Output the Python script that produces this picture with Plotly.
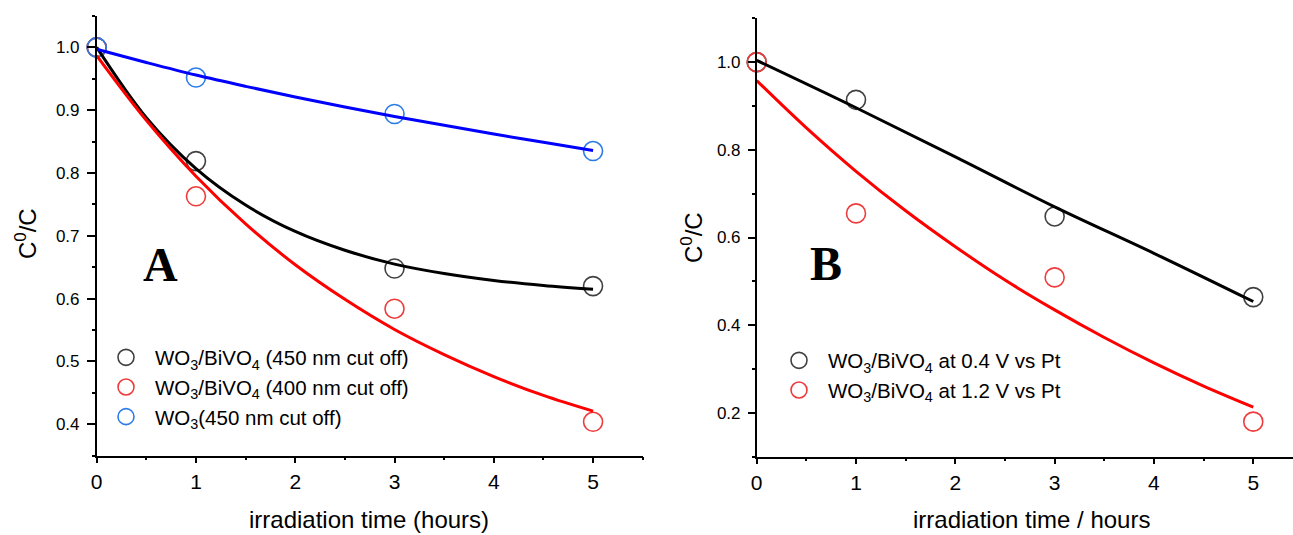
import plotly.graph_objects as go

W, H = 1293, 535

# ---------------- data ----------------
t_pts = [0, 1, 3, 5]
t_fit = [0, 0.5, 1, 1.5, 2, 2.5, 3, 3.5, 4, 4.5, 5]

# Panel A measured points
a_black = [1.0, 0.819, 0.648, 0.620]
a_red = [1.0, 0.763, 0.584, 0.404]
a_blue = [1.0, 0.952, 0.894, 0.835]
# Panel A fit curves
a_black_fit = [1.0, 0.888, 0.807, 0.749, 0.707, 0.677, 0.655, 0.640, 0.629, 0.621, 0.615]
a_red_fit = [0.987, 0.884, 0.795, 0.719, 0.654, 0.599, 0.551, 0.511, 0.476, 0.446, 0.421]
a_blue_fit = [0.997, 0.976, 0.956, 0.938, 0.921, 0.905, 0.890, 0.876, 0.862, 0.849, 0.836]

# Panel B measured points
b_black = [1.0, 0.914, 0.648, 0.464]
b_red = [1.0, 0.655, 0.509, 0.180]
# Panel B fit curves
t_fit_b_black = [0, 1, 2, 3, 4, 5]
b_black_fit = [1.004, 0.896, 0.784, 0.670, 0.564, 0.454]
b_red_fit = [0.958, 0.850, 0.751, 0.661, 0.579, 0.503, 0.435, 0.372, 0.314, 0.261, 0.213]

names_a = ["WO<sub>3</sub>/BiVO<sub>4</sub> (450 nm cut off)",
           "WO<sub>3</sub>/BiVO<sub>4</sub> (400 nm cut off)",
           "WO<sub>3</sub>(450 nm cut off)"]
names_b = ["WO<sub>3</sub>/BiVO<sub>4</sub> at 0.4 V vs Pt",
           "WO<sub>3</sub>/BiVO<sub>4</sub> at 1.2 V vs Pt"]

# ---------------- styles ----------------
FONT = "Liberation Sans, Arial, sans-serif"
SERIF = "Liberation Serif, Times New Roman, serif"
MK_BLACK, MK_RED, MK_BLUE = "#404040", "#EE3B3B", "#2B7CE9"
LN_BLACK, LN_RED, LN_BLUE = "#000000", "#FF0000", "#0000FF"
MSIZE, MLW, LW = 19, 1.6, 3

fig = go.Figure()

def markers(x, y, color, name, xa, ya, legend, group):
    fig.add_trace(go.Scatter(
        x=x, y=y, mode="markers", name=name, xaxis=xa, yaxis=ya,
        legend=legend, legendgroup=group,
        marker=dict(symbol="circle-open", size=MSIZE, color=color,
                    line=dict(width=MLW, color=color)),
        cliponaxis=False))

def fitline(x, y, color, xa, ya):
    fig.add_trace(go.Scatter(
        x=x, y=y, mode="lines", showlegend=False, xaxis=xa, yaxis=ya,
        line=dict(color=color, width=LW, shape="spline"),
        hoverinfo="skip", cliponaxis=False))

# Panel A
markers(t_pts, a_black, MK_BLACK, names_a[0], "x", "y", "legend", "a1")
markers(t_pts, a_red, MK_RED, names_a[1], "x", "y", "legend", "a2")
markers(t_pts, a_blue, MK_BLUE, names_a[2], "x", "y", "legend", "a3")
fitline(t_fit, a_black_fit, LN_BLACK, "x", "y")
fitline(t_fit, a_red_fit, LN_RED, "x", "y")
fitline(t_fit, a_blue_fit, LN_BLUE, "x", "y")

# Panel B
markers(t_pts, b_black, MK_BLACK, names_b[0], "x2", "y2", "legend2", "b1")
markers(t_pts, b_red, MK_RED, names_b[1], "x2", "y2", "legend2", "b2")
fitline(t_fit_b_black, b_black_fit, LN_BLACK, "x2", "y2")
fitline(t_fit, b_red_fit, LN_RED, "x2", "y2")

def px_x(p):
    return p / W

def px_y(p):
    return 1 - p / H

axis_common = dict(showline=True, linecolor="black", linewidth=1.5, mirror=False,
                   showgrid=False, zeroline=False, ticks="outside",
                   tickcolor="black", tickwidth=1.5, automargin=False)

xa_common = dict(axis_common, tick0=0, dtick=1, ticklen=6,
                 tickfont=dict(family=FONT, size=21, color="black"),
                 minor=dict(dtick=0.5, ticks="outside", ticklen=3,
                            tickcolor="black", tickwidth=1.5))

fig.update_layout(
    width=W, height=H,
    margin=dict(l=0, r=0, t=0, b=0),
    paper_bgcolor="white", plot_bgcolor="white",
    font=dict(family=FONT, color="black"),
    xaxis=dict(xa_common, domain=[px_x(96.7), px_x(642.7)], range=[0, 5.5],
               anchor="y"),
    yaxis=dict(axis_common, domain=[px_y(455.7), px_y(16)], range=[0.35, 1.05],
               anchor="x", tick0=0, dtick=0.1, tickformat=".1f", ticklen=8,
               ticklabelstandoff=4,
               tickfont=dict(family=FONT, size=17, color="black"),
               minor=dict(dtick=0.05, ticks="outside", ticklen=3,
                          tickcolor="black", tickwidth=1.5)),
    xaxis2=dict(xa_common, domain=[px_x(756.7), 1.0], range=[0, 5.4],
                anchor="y2"),
    yaxis2=dict(axis_common, domain=[px_y(456.7), px_y(18.3)], range=[0.1, 1.1],
                anchor="x2", tick0=0, dtick=0.2, tickformat=".1f", ticklen=7,
                ticklabelstandoff=4,
                tickfont=dict(family=FONT, size=17, color="black"),
                minor=dict(dtick=0.1, ticks="outside", ticklen=3,
                           tickcolor="black", tickwidth=1.5)),
    legend=dict(x=px_x(97), y=px_y(337.5), xanchor="left", yanchor="top",
                bgcolor="rgba(0,0,0,0)", borderwidth=0, itemwidth=48,
                tracegroupgap=0, itemclick=False,
                font=dict(family=FONT, size=20.5, color="black")),
    legend2=dict(x=px_x(770), y=px_y(340.5), xanchor="left", yanchor="top",
                 bgcolor="rgba(0,0,0,0)", borderwidth=0, itemwidth=48,
                 tracegroupgap=0, itemclick=False,
                 font=dict(family=FONT, size=20.5, color="black")),
    showlegend=True,
)

annots = [
    dict(text="irradiation time (hours)", x=px_x(369), y=px_y(519), size=24),
    dict(text="irradiation time / hours", x=px_x(1031), y=px_y(519), size=24),
]
for a in annots:
    fig.add_annotation(x=a["x"], y=a["y"], xref="paper", yref="paper",
                       text=a["text"], showarrow=False, xanchor="center",
                       yanchor="middle", font=dict(family=FONT, size=a["size"], color="black"))

for xx, yy in [(26, 234), (692, 238)]:
    fig.add_annotation(x=px_x(xx), y=px_y(yy), xref="paper", yref="paper",
                       text="C<sup>0</sup>/C", textangle=-90, showarrow=False,
                       xanchor="center", yanchor="middle",
                       font=dict(family=FONT, size=24, color="black"))

for txt, xx, yy in [("A", 160, 265), ("B", 826, 264)]:
    fig.add_annotation(x=px_x(xx), y=px_y(yy), xref="paper", yref="paper",
                       text="<b>" + txt + "</b>", showarrow=False,
                       xanchor="center", yanchor="middle",
                       font=dict(family=SERIF, size=48, color="black"))

fig.write_html("out.html",
               config={"displayModeBar": False},
               post_script="document.body.style.margin='0px';"
                           "document.body.style.overflow='hidden';")
